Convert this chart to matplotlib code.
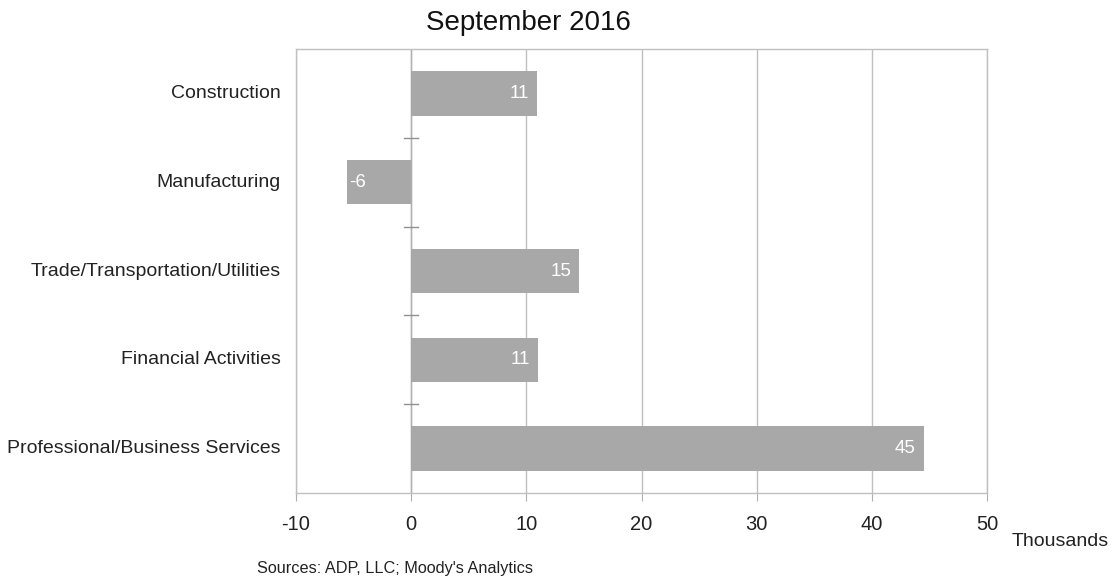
import matplotlib
matplotlib.use("Agg")
import matplotlib.pyplot as plt
import numpy as np

categories = ["Construction", "Manufacturing", "Trade/Transportation/Utilities",
              "Financial Activities", "Professional/Business Services"]
values = [10.9, -5.6, 14.6, 11.05, 44.5]
value_labels = ["11", "-6", "15", "11", "45"]
x_ticks = [-10, 0, 10, 20, 30, 40, 50]

plt.rcParams['font.family'] = ['Liberation Sans', 'DejaVu Sans']

fig = plt.figure(figsize=(11.14, 5.79), dpi=100)
ax = fig.add_axes([296/1114, 1-493/579, (987-296)/1114, (493-49)/579])

ypos = np.arange(len(categories))
bar_color = "#a8a8a8"
ax.barh(ypos, values, height=0.5, color=bar_color, zorder=3)
ax.set_ylim(len(categories)-0.5, -0.5)
ax.set_xlim(-10, 50)
ax.set_xticks(x_ticks)
ax.set_xticklabels([str(t) for t in x_ticks], fontsize=14.5, color="#222222")
ax.tick_params(axis='x', length=6, color="#b0b0b0", pad=10)
ax.xaxis.grid(True, color="#c0c0c0", linewidth=1, zorder=0)

ax.set_yticks([])
for spine in ax.spines.values():
    spine.set_color("#c0c0c0")
    spine.set_linewidth(1)

# y axis at zero with ticks at category boundaries
ax.axvline(0, color="#b0b0b0", linewidth=1, zorder=2)
for b in np.arange(0.5, len(categories)-0.5, 1.0):
    ax.plot([-0.6, 0.6], [b, b], color="#909090", linewidth=1, zorder=2)

for y, cat in zip(ypos, categories):
    ax.text(-0.022, y, cat, transform=ax.get_yaxis_transform(), ha='right', va='center',
            fontsize=14, color="#222222")

for y, v, lab in zip(ypos, values, value_labels):
    if v >= 0:
        ax.text(v - 0.7, y, lab, ha='right', va='center', color='white', fontsize=13.5, zorder=4)
    else:
        ax.text(v + 0.2, y, lab, ha='left', va='center', color='white', fontsize=13.5, zorder=4)

fig.text(528/1114, 1-23/579, "September 2016", ha='center', va='center', fontsize=20, color="#111111")
fig.text(1012/1114, 1-542/579, "Thousands", ha='left', va='center', fontsize=14, color="#222222")
fig.text(257/1114, 1-568/579, "Sources: ADP, LLC; Moody's Analytics", ha='left', va='center',
         fontsize=11.7, color="#222222")

fig.savefig("out.png", dpi=100)
